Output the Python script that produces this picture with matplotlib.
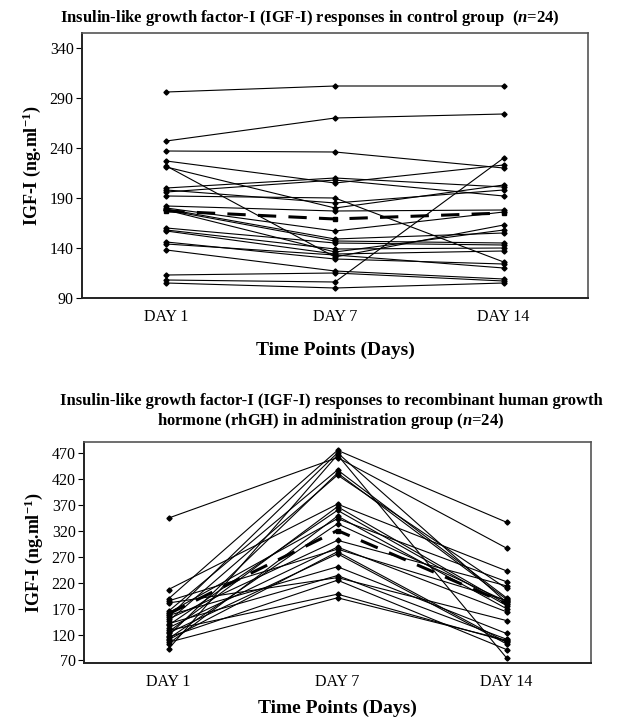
import matplotlib
matplotlib.use("Agg")
import matplotlib.pyplot as plt
import numpy as np

plt.rcParams['font.family'] = ['Liberation Serif', 'DejaVu Serif']
plt.rcParams['mathtext.fontset'] = 'custom'
plt.rcParams['mathtext.rm'] = 'Liberation Serif:bold'
plt.rcParams['mathtext.bf'] = 'Liberation Serif:bold'
plt.rcParams['mathtext.it'] = 'Liberation Serif:bold:italic'

days = ["DAY 1", "DAY 7", "DAY 14"]

# Control group (n=24): IGF-I at day 1, 7, 14
ctrl_d1 = [296, 247, 237, 227, 222, 221, 200, 198, 196, 192, 182, 180,
           179, 178, 178, 160, 158, 157, 146, 144, 138, 113, 108, 105]
ctrl_d7 = [302, 270, 236, 205, 131, 180, 210, 185, 208, 190, 177, 157,
           149, 136, 147, 145, 139, 134, 129, 133, 117, 115, 106, 100]
ctrl_d14 = [302, 274, 220, 223, 163, 203, 201, 198, 192, 126, 178, 176,
            155, 158, 145, 143, 140, 137, 124, 120, 109, 107, 230, 105]
ctrl_mean = [177, 169, 175]

# rhGH administration group (n=24)
gh_d1 = [345, 207, 189, 185, 181, 165, 162, 157, 154, 150, 146, 141,
         138, 133, 128, 125, 123, 118, 115, 112, 110, 105, 102, 92]
gh_d7 = [462, 372, 476, 285, 230, 438, 344, 251, 471, 302, 428, 234,
         360, 289, 198, 367, 276, 432, 225, 334, 280, 191, 349, 467]
gh_d14 = [287, 243, 337, 186, 147, 191, 222, 122, 182, 214, 209, 111,
          176, 164, 107, 179, 102, 188, 91, 184, 105, 109, 170, 75]
gh_mean = [160, 321, 180]

W, H = 626, 718
fig = plt.figure(figsize=(W / 100, H / 100), dpi=100)


def px_axes(l, r, t, b):
    return fig.add_axes([l / W, 1 - b / H, (r - l) / W, (b - t) / H])


def draw(ax, d1, d7, d14, mean, ylim, yticks, xlabelpad):
    x = np.arange(1, 4)
    for a, b, c in zip(d1, d7, d14):
        ax.plot(x, [a, b, c], color='black', lw=0.8, marker='D', ms=2.6,
                mfc='black', mec='black')
    ax.plot(x, mean, color='black', lw=2.2, ls=(0, (6, 4)), marker='s', ms=3.5)
    ax.set_xlim(0.5, 3.5)
    ax.set_ylim(*ylim)
    ax.set_yticks(yticks)
    ax.set_xticks(x)
    ax.set_xticklabels(days)
    ax.tick_params(axis='x', length=0, pad=8, labelsize=11.5)
    ax.tick_params(axis='y', length=4, width=0.8, pad=2, labelsize=11.5)
    for s in ['left', 'bottom']:
        ax.spines[s].set_linewidth(1.4)
        ax.spines[s].set_color('#222222')
    for s in ['top', 'right']:
        ax.spines[s].set_linewidth(1.2)
        ax.spines[s].set_color('#555555')
    ax.set_ylabel(r"IGF-I (ng.ml$^{-1}$)", fontsize=13, fontweight='bold',
                  labelpad=5)
    ax.set_xlabel("Time Points (Days)", fontsize=14, fontweight='bold',
                  labelpad=xlabelpad)


ax1 = px_axes(82, 588, 33, 298)
draw(ax1, ctrl_d1, ctrl_d7, ctrl_d14, ctrl_mean, (90, 355),
     [90, 140, 190, 240, 290, 340], 12)
fig.text(310 / W, 1 - 18 / H,
         r"Insulin-like growth factor-I (IGF-I) responses in control group  ($\mathit{n}$=24)",
         ha='center', va='center', fontsize=12, fontweight='bold')

ax2 = px_axes(84, 591, 442, 663)
draw(ax2, gh_d1, gh_d7, gh_d14, gh_mean, (65, 492),
     [70, 120, 170, 220, 270, 320, 370, 420, 470], 7)
fig.text(331 / W, 1 - 412 / H,
         "Insulin-like growth factor-I (IGF-I) responses to recombinant human growth\n"
         r"hormone (rhGH) in administration group ($\mathit{n}$=24)",
         ha='center', va='center', fontsize=12, fontweight='bold',
         linespacing=1.1)

fig.savefig("out.png", dpi=100)
